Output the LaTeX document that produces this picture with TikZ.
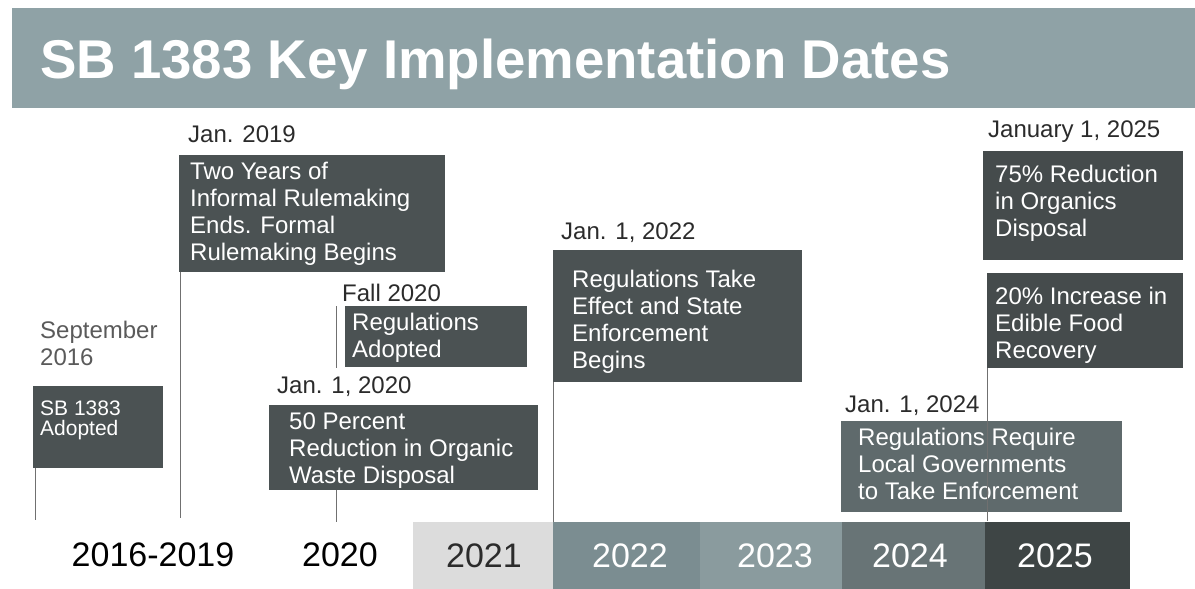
\documentclass[tikz,border=0pt]{standalone}
\usepackage{fontspec}
\setmainfont{Liberation Sans}
\definecolor{titlebar}{HTML}{8FA2A6}
\definecolor{boxdark}{HTML}{4B5253}
\definecolor{boxmid}{HTML}{5F6A6C}
\definecolor{boxdeep}{HTML}{454B4C}
\definecolor{labeltxt}{HTML}{2B2B2B}
\definecolor{graytxt}{HTML}{5A5A5A}
\definecolor{yr21}{HTML}{DCDCDC}
\definecolor{yr22}{HTML}{7B8D91}
\definecolor{yr23}{HTML}{8A9B9E}
\definecolor{yr24}{HTML}{687476}
\definecolor{yr25}{HTML}{3E4545}
\definecolor{tick}{HTML}{707070}
\begin{document}
\begin{tikzpicture}[x=1pt,y=-1pt,
  evbox/.style={fill=#1, draw=none, inner sep=0pt, anchor=north west},
  evtext/.style={text=white, font=\fontsize{24}{27}\selectfont, align=left, inner sep=0pt, anchor=north west},
  smalltext/.style={text=white, font=\fontsize{21}{20}\selectfont, align=left, inner sep=0pt, anchor=north west},
  datelabel/.style={text=labeltxt, font=\fontsize{24}{27}\selectfont, align=left, inner sep=0pt, anchor=north west},
  yearblock/.style={fill=#1, draw=none, inner sep=0pt, anchor=north west, minimum height=67, minimum width=0},
  yeartext/.style={font=\fontsize{34}{36}\selectfont, inner sep=0pt, anchor=center},
  ticks/.style={draw=tick, line width=0.9pt}
]
\useasboundingbox (0,0) rectangle (1195,589);
% title bar
\node[fill=titlebar, inner sep=0pt, minimum width=1183, minimum height=100, anchor=north west] (bar) at (12,8) {};
\node[text=white, font=\fontsize{54.6}{56}\bfseries\selectfont, inner sep=0pt, anchor=base west] (title) at (40,78) {SB 1383 Key Implementation Dates};

% year bar
\node[yearblock=yr21, minimum width=140] (y21) at (413,522) {};
\node[yearblock=yr22, minimum width=147] (y22) at (553,522) {};
\node[yearblock=yr23, minimum width=142] (y23) at (700,522) {};
\node[yearblock=yr24, minimum width=143] (y24) at (842,522) {};
\node[yearblock=yr25, minimum width=145] (y25) at (985,522) {};
\node[yeartext, text=black] (t1619) at (153,555) {2016-2019};
\node[yeartext, text=black] (t20) at (340,555) {2020};
\node[yeartext, text=labeltxt] (t21) at (484,556) {2021};
\node[yeartext, text=white] (t22) at (630,556) {2022};
\node[yeartext, text=white] (t23) at (775,556) {2023};
\node[yeartext, text=white] (t24) at (910,556) {2024};
\node[yeartext, text=white] (t25) at (1055,556) {2025};

% anchor points on the year bar
\coordinate (e1) at (35,520);
\coordinate (e2) at (180,518);
\coordinate (e3) at (336,522);
\coordinate (e5) at (553,522);
\coordinate (e6) at (987,521);

% September 2016
\node[datelabel, text=graytxt] (l1) at (40,321) {September\\2016};
\node[evbox=boxdark, minimum width=130, minimum height=82] (b1) at (33,386) {};
\node[smalltext] (x1) at (40,401) {SB 1383\\Adopted};
\draw[ticks] ([xshift=2pt]b1.south west) -- (e1);

% Jan. 2019
\node[datelabel] (l2) at (188,126) {Jan. 2019};
\node[evbox=boxdark, minimum width=266, minimum height=117] (b2) at (179,155) {};
\node[evtext] (x2) at (190,162) {Two Years of\\Informal Rulemaking\\Ends. Formal\\Rulemaking Begins};
\draw[ticks] ([xshift=1pt]b2.south west) -- (e2);

% Fall 2020
\node[datelabel] (l3) at (342,284) {Fall 2020};
\node[evbox=boxdark, minimum width=182, minimum height=61] (b3) at (345,306) {};
\node[evtext] (x3) at (352,313) {Regulations\\Adopted};
\coordinate (c3) at (336,306);
\coordinate (c3b) at (336,368);
\draw[ticks] (c3) -- (c3b);

% Jan. 1, 2020
\node[datelabel] (l4) at (277,377) {Jan. 1, 2020};
\node[evbox=boxdark, minimum width=269, minimum height=85] (b4) at (269,405) {};
\node[evtext] (x4) at (289,413) {50 Percent\\Reduction in Organic\\Waste Disposal};
\draw[ticks] (b4.south west -| e3) -- (e3);

% Jan. 1, 2022
\node[datelabel] (l5) at (561,223) {Jan. 1, 2022};
\node[evbox=boxdark, minimum width=249, minimum height=132] (b5) at (553,250) {};
\node[evtext] (x5) at (572,270) {Regulations Take\\Effect and State\\Enforcement\\Begins};

% Jan. 1, 2024
\node[datelabel] (l7) at (845,396) {Jan. 1, 2024};
\node[evbox=boxmid, minimum width=281, minimum height=91] (b7) at (841,421) {};
\node[evtext] (x7) at (858,428) {Regulations Require\\Local Governments\\to Take Enforcement};

% January 1, 2025
\node[datelabel] (l6) at (988,121) {January 1, 2025};
\node[evbox=boxdeep, minimum width=200, minimum height=109] (b6a) at (983,151) {};
\node[evtext] (x6a) at (995,165) {75\% Reduction\\in Organics\\Disposal};
\node[evbox=boxdeep, minimum width=196, minimum height=95] (b6b) at (987,273) {};
\node[evtext] (x6b) at (995,287) {20\% Increase in\\Edible Food\\Recovery};

\draw[ticks] (b5.south west) -- (e5);
\draw[ticks] (b6b.south west) -- (e6);
\end{tikzpicture}
\end{document}
